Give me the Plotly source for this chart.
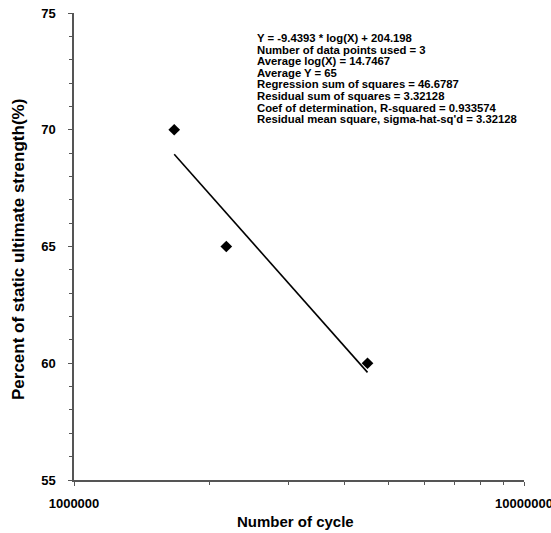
import plotly.graph_objects as go

# Data
cycles = [1.67e6, 2.18e6, 4.49e6]
strength = [70, 65, 60]
fit_x = [1.67e6, 4.49e6]
fit_y = [68.95, 59.61]

x_tickvals = [1e6, 1e7]
x_ticktext = ["1000000", "10000000"]
x_minor = [2e6, 3e6, 4e6, 5e6, 6e6, 7e6, 8e6, 9e6]

stats_lines = [
    "Y = -9.4393 * log(X) + 204.198",
    "Number of data points used = 3",
    "Average log(X) = 14.7467",
    "Average Y = 65",
    "Regression sum of squares = 46.6787",
    "Residual sum of squares = 3.32128",
    "Coef of determination, R-squared = 0.933574",
    "Residual mean square, sigma-hat-sq'd = 3.32128",
]

FONT = "Arial, 'Liberation Sans', sans-serif"

W, H = 551, 533
L, R, T, B = 74, 27, 13, 53
PW, PH = W - L - R, H - T - B


def px2paper_x(px):
    return (px - L) / PW


def px2paper_y(py):
    return (H - B - py) / PH


fig = go.Figure()
fig.add_trace(go.Scatter(x=fit_x, y=fit_y, mode="lines",
                         line=dict(color="black", width=1.6), showlegend=False))
fig.add_trace(go.Scatter(x=cycles, y=strength, mode="markers",
                         marker=dict(symbol="diamond", size=9, color="black"),
                         showlegend=False))

annotations = []
for i, t in enumerate(stats_lines):
    annotations.append(dict(
        text=t, xref="paper", yref="paper",
        x=px2paper_x(255), y=px2paper_y(38 + i * 11.6),
        xanchor="left", yanchor="middle", showarrow=False, align="left",
        font=dict(family=FONT, size=11.3, color="black", weight="bold")))

annotations.append(dict(
    text="Number of cycle", xref="paper", yref="paper",
    x=px2paper_x(295), y=px2paper_y(521), xanchor="center", yanchor="middle",
    showarrow=False, font=dict(family=FONT, size=15, color="black", weight="bold")))
annotations.append(dict(
    text="Percent of static ultimate strength(%)", xref="paper", yref="paper",
    x=px2paper_x(18), y=px2paper_y(250), xanchor="center", yanchor="middle",
    textangle=-90, showarrow=False,
    font=dict(family=FONT, size=17, color="black", weight="bold")))

fig.update_layout(
    width=W, height=H,
    margin=dict(l=L, r=R, t=T, b=B, autoexpand=False),
    paper_bgcolor="white", plot_bgcolor="white",
    annotations=annotations,
    xaxis=dict(type="log", range=[6, 7], tickvals=x_tickvals, ticktext=x_ticktext,
               ticks="outside", ticklen=4, tickcolor="#555", automargin=False,
               ticklabeloverflow="allow",
               showline=True, linecolor="#555", linewidth=1.5,
               showgrid=False, zeroline=False, ticklabelstandoff=7,
               tickfont=dict(family=FONT, size=13, color="black", weight="bold"),
               minor=dict(tickvals=x_minor, ticks="outside", ticklen=3, tickcolor="#555")),
    yaxis=dict(range=[55, 75], dtick=5, tick0=55, automargin=False,
               ticks="outside", ticklen=4, tickcolor="#555",
               showline=True, linecolor="#555", linewidth=1.5,
               showgrid=False, zeroline=False, ticklabelstandoff=10,
               tickfont=dict(family=FONT, size=13, color="black", weight="bold"),
               minor=dict(dtick=1, ticks="outside", ticklen=3, tickcolor="#555")),
)

fig.write_html("out.html")
